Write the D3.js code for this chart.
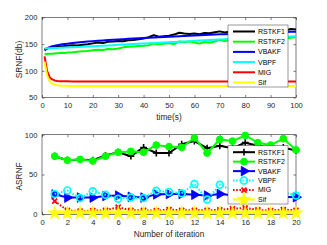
<!DOCTYPE html>
<html><head><meta charset="utf-8">
<script src="https://cdn.jsdelivr.net/npm/d3@7/dist/d3.min.js"></script>
<style>body{margin:0;background:#fff}svg{display:block;font-family:"Liberation Sans",Arial,sans-serif}</style>
</head><body><svg id="c" width="327" height="245"></svg>
<script>
// ---------- top chart data ----------
const times = [1,2,3,4,5,6,7,8,9,10,12,14,16,18,20,22,24,26,28,30,32,34,36,38,40,42,44,46,48,50,52,54,56,58,60,62,64,66,68,70,72,74,76,78,80,82,84,86,88,90,92,94,96,98,100];
const srnfRSTKF1 = [140,142,143,143.5,144,145,146,145.5,146.5,147,
  148,147.5,149,150,151.5,153,152,154.5,155,156,
  155.5,157.5,158,159,160.5,163,167,164,165,166,
  168,171.5,170,169,170,168.5,171,170.5,172.5,174,
  172,174,173,175,174,175.5,174.5,176,175,176.5,
  175.5,177,176,178.5,177.5];
const srnfRSTKF2 = [131,131.5,132,132,132.5,133,133.5,134,133.5,134.5,
  135,136,136.5,137,138.5,139.5,139,141,140.5,142,
  144,145,145.5,146.5,147,148,151,150,151,152,
  150,155,153.5,155,153,151,154,152.5,155,158,
  156,158,157,158.5,158,159,158.5,160,159.5,160.5,
  160,161.5,160.5,162,163.5];
const srnfVBAKF = [138,142,144.5,146,147,148,149,149.8,150.5,151,
  152,153,154,155,155.7,156.3,157,157.6,158.2,158.8,
  159.4,160,160.5,161,161.6,162.1,162.6,163.1,163.6,164.1,
  164.6,165,165.5,166,166.4,166.8,167.2,167.6,168,168.4,
  168.8,169.2,169.6,170,170.3,170.6,171,171.3,171.6,172,
  172.3,172.6,172.9,173.2,173.5];
const srnfVBPF = [142,142.2,142.4,142.6,142.8,143,143.2,143.4,143.6,143.8,
  144.2,144.7,145.2,145.7,146.2,146.7,147.2,147.7,148.2,148.7,
  149.2,149.7,150.2,150.7,151.2,151.7,152.2,152.7,153.2,153.7,
  154.2,154.7,155.2,155.7,156.2,156.7,157.2,157.7,158.2,158.7,
  159.2,159.6,160,160.4,160.8,161.2,161.6,162,162.4,162.8,
  163.2,163.6,164,164.4,164.8];
const srnfMIG = [127,100,88,84,82,81,80.7,80.5,80.4,80.3,
  80.2,80.2,80.2,80.2,80.2,80.2,80.2,80.2,80.2,80.2,
  80.2,80.2,80.2,80.2,80.2,80.2,80.2,80.2,80.2,80.2,
  80.2,80.2,80.2,80.2,80.2,80.2,80.2,80.2,80.2,80.2,
  80.2,80.2,80.2,80.2,80.2,80.2,80.2,80.2,80.2,80.2,
  80.2,80.2,80.2,80.2,80.2];
const srnfSif = [117,92,80,76,74,73,72.5,72,71.8,71.7,
  71.5,71.5,71.5,71.5,71.5,71.5,71.5,71.5,71.5,71.5,
  71.5,71.5,71.5,71.5,71.5,71.5,71.5,71.5,71.5,71.5,
  71.5,71.5,71.5,71.5,71.5,71.5,71.5,71.5,71.5,71.5,
  71.5,71.5,71.5,71.5,71.5,71.5,71.5,71.5,71.5,71.5,
  71.5,71.5,71.5,71.5,71.5];
const timeTicks = [0,10,20,30,40,50,60,70,80,90,100];
const srnfTicks = [50,100,150,200];

// ---------- bottom chart data ----------
const iterations = [1,2,3,4,5,6,7,8,9,10,11,12,13,14,15,16,17,18,19,20];
const asrnfRSTKF1 = [73,68,69,68,74,78,73,84,77,77,88,92,83,86,83,90,86,84,84,80];
const asrnfRSTKF2 = [73,68,69,67,73,78,79,78,87,85,84,96,77,94,92,99,90,87,95,81];
const asrnfVBAKF = [25,21,21,21,23,23.5,22,21,25,25.5,25.5,24.5,23.5,25.5,24,23,22,22,22,21.5];
const asrnfVBPF = [25.5,30,20.5,29,24.5,19.5,21,20.5,29.5,28,26.5,38,18.5,37,30,27,25,24,28,23.5];
const asrnfMIG = [16.5,5,4,4.5,5,9,5,5,4.5,6,5,5,5,5.5,7,8,5.5,4.5,6,5];
const asrnfSif = [1.5,1.5,1.5,1.5,1.5,1.5,1.5,1.5,1.5,1.5,1.5,1.5,1.5,1.5,1.5,1.5,1.5,1.5,1.5,1.5];
const iterTicks = [0,2,4,6,8,10,12,14,16,18,20];
const asrnfTicks = [0,50,100];

const names = ["RSTKF1","RSTKF2","VBAKF","VBPF","MIG","Sif"];
const colors = ["#000000","#00ff00","#0000ff","#00ffff","#ff0000","#ffff00"];

const svg = d3.select("#c");
const axisColor = "#262626";
const L = 42, R = 296;

function drawFrame(g, x, y, xt, yt, xTitle, yTitle, titleY) {
  const [y0, y1] = y.range();
  g.append("rect").attr("x", L).attr("y", y1).attr("width", R - L).attr("height", y0 - y1)
    .attr("fill", "#fff");
  const ax = (gen, tr) => {
    const a = g.append("g").attr("transform", tr).call(gen);
    a.select(".domain").remove();
    a.selectAll("line").attr("stroke", axisColor).attr("stroke-width", 0.6);
    a.selectAll("text").attr("fill", axisColor).style("font-size", "7.6px")
      .style("font-family", "'Liberation Sans',Arial,sans-serif");
    return a;
  };
  ax(d3.axisBottom(x).tickValues(xt).tickSize(-2.5).tickPadding(5).tickFormat(d3.format("d")), `translate(0,${y0})`);
  ax(d3.axisTop(x).tickValues(xt).tickSize(-2.5).tickFormat(""), `translate(0,${y1})`);
  ax(d3.axisLeft(y).tickValues(yt).tickSize(-2.5).tickPadding(4.5).tickFormat(d3.format("d")), `translate(${L},0)`);
  ax(d3.axisRight(y).tickValues(yt).tickSize(-2.5).tickFormat(""), `translate(${R},0)`);
  g.append("rect").attr("x", L).attr("y", y1).attr("width", R - L).attr("height", y0 - y1)
    .attr("fill", "none").attr("stroke", axisColor).attr("stroke-width", 0.6);
  g.append("text").attr("x", (L + R) / 2).attr("y", titleY).attr("text-anchor", "middle")
    .attr("fill", axisColor).style("font-size", "8.3px").text(xTitle);
  g.append("text").attr("transform", `translate(22,${(y0 + y1) / 2 + 2}) rotate(-90)`)
    .attr("text-anchor", "middle").attr("fill", axisColor).style("font-size", "8.3px").text(yTitle);
}

// ---------- top chart ----------
const xTop = d3.scaleLinear().domain([0, 100]).range([L, R]);
const yTop = d3.scaleLinear().domain([50, 200]).range([97.5, 17.5]);
const gTop = svg.append("g");
drawFrame(gTop, xTop, yTop, timeTicks, srnfTicks, "time(s)", "SRNF(db)", 120);
const topSeries = [srnfRSTKF1, srnfRSTKF2, srnfVBAKF, srnfVBPF, srnfMIG, srnfSif];
const lineTop = d3.line().x((d, i) => xTop(times[i])).y(d => yTop(d));
topSeries.forEach((s, k) => {
  gTop.append("path").attr("d", lineTop(s)).attr("fill", "none")
    .attr("stroke", colors[k]).attr("stroke-width", 2).attr("stroke-linejoin", "round");
});

// ---------- bottom chart ----------
const xBot = d3.scaleLinear().domain([0, 20]).range([L, R]);
const yBot = d3.scaleLinear().domain([0, 100]).range([214.3, 134.7]);
const gBot = svg.append("g");
drawFrame(gBot, xBot, yBot, iterTicks, asrnfTicks, "Number of iteration", "ASRNF", 237);
const botSeries = [asrnfRSTKF1, asrnfRSTKF2, asrnfVBAKF, asrnfVBPF, asrnfMIG, asrnfSif];
const dashes = [null, null, null, "1.6,1.6", "1.6,1.6", null];

function marker(g, k, cx, cy) {
  const c = colors[k];
  if (k === 0) {
    g.append("path").attr("d", "M-3.4,0H3.4M0,-3.4V3.4").attr("transform", `translate(${cx},${cy})`)
      .attr("stroke", c).attr("stroke-width", 1.6).attr("fill", "none");
  } else if (k === 1) {
    g.append("circle").attr("cx", cx).attr("cy", cy).attr("r", 3.4).attr("fill", c).attr("stroke", c).attr("stroke-width", 1);
  } else if (k === 2) {
    g.append("path").attr("d", d3.symbol(d3.symbolTriangle).size(40)())
      .attr("transform", `translate(${cx},${cy}) rotate(90)`).attr("fill", c).attr("stroke", c).attr("stroke-width", 0.8);
  } else if (k === 3) {
    g.append("circle").attr("cx", cx).attr("cy", cy).attr("r", 3.4).attr("fill", "none").attr("stroke", c).attr("stroke-width", 1.7);
  } else if (k === 4) {
    g.append("path").attr("d", "M-2.5,-2.5L2.5,2.5M-2.5,2.5L2.5,-2.5").attr("transform", `translate(${cx},${cy})`)
      .attr("stroke", c).attr("stroke-width", 1.7).attr("fill", "none");
  } else {
    g.append("path").attr("d", d3.symbol(d3.symbolStar).size(60)())
      .attr("transform", `translate(${cx},${cy})`).attr("fill", c).attr("stroke", c).attr("stroke-width", 0.6);
  }
}

const lineBot = d3.line().x((d, i) => xBot(iterations[i])).y(d => yBot(d));
botSeries.forEach((s, k) => {
  const p = gBot.append("path").attr("d", lineBot(s)).attr("fill", "none")
    .attr("stroke", colors[k]).attr("stroke-width", 2).attr("stroke-linejoin", "round");
  if (dashes[k]) p.attr("stroke-dasharray", dashes[k]);
  s.forEach((v, i) => marker(gBot, k, xBot(iterations[i]), yBot(v)));
});

// ---------- legends ----------
function legend(g, top, bottom, withMarkers) {
  g.append("rect").attr("x", 228).attr("y", top).attr("width", 60).attr("height", bottom - top)
    .attr("fill", "#fff").attr("stroke", "#555").attr("stroke-width", 0.6);
  const step = (bottom - top - 11) / 5;
  names.forEach((n, k) => {
    const yy = top + 6.5 + k * step;
    const p = g.append("line").attr("x1", 233).attr("x2", 255).attr("y1", yy).attr("y2", yy)
      .attr("stroke", colors[k]).attr("stroke-width", 2);
    if (withMarkers && dashes[k]) p.attr("stroke-dasharray", dashes[k]);
    if (withMarkers) marker(g, k, 244, yy);
    g.append("text").attr("x", 258).attr("y", yy).attr("dy", "0.35em").attr("fill", "#000")
      .style("font-size", "7px").text(n);
  });
}
legend(gTop, 25, 87, false);
legend(gBot, 145.7, 204, true);
</script></body></html>
